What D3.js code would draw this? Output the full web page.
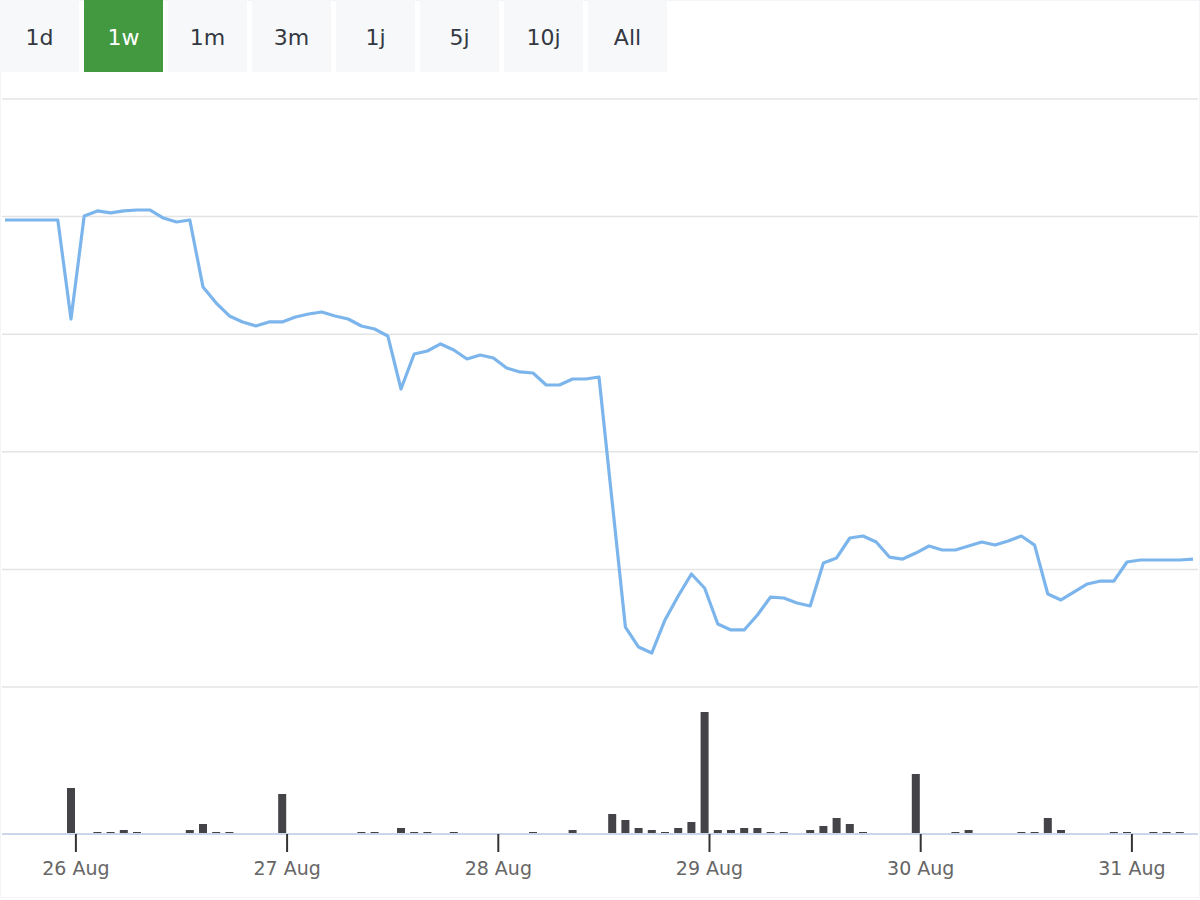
<!DOCTYPE html>
<html><head><meta charset="utf-8">
<script src="https://cdn.jsdelivr.net/npm/d3@7"></script>
<style>body{margin:0;background:#fff;font-family:"DejaVu Sans",sans-serif}</style>
</head><body><svg id="c" width="1200" height="900"></svg>
<script>
const buttons = ["1d","1w","1m","3m","1j","5j","10j","All"];
const selectedButton = "1w";
const startTime = new Date(2025,7,25,16,0);
const stepHours = 1.5;
const priceY = [220,220,220,220,220,319,216,211,213,211,210,210,218,222,220,287,303,316,322,326,322,322,317,314,312,316,319,326,329,336,389,354,351,344,350,359,355,358,368,372,373,385,385,379,379,377,502,627,647,653,620,596,574,588,624,630,630,615,597,598,603,606,563,558,538,536,542,557,559,553,546,550,550,546,542,545,541,536,545,594,600,592,584,581,581,562,560,560,560,560,559];
const prices = priceY.map(y => +(0.9 + (687 - y) / 1176).toFixed(4));
const volIdx = [5,7,8,9,10,14,15,16,17,21,27,28,30,31,32,34,40,43,46,47,48,49,50,51,52,53,54,55,56,57,58,59,61,62,63,64,65,69,72,73,77,78,79,80,84,85,87,88,89];
const volVal = [46,2,2,4,2,4,10,2,2,40,2,2,6,2,2,2,2,4,20,14,6,4,2,6,12,122,4,4,6,6,2,2,4,8,16,10,2,60,2,4,2,2,16,4,2,2,2,2,2];
const tickDates = [26,27,28,29,30,31].map(d => new Date(2025,7,d));
const tickLabels = ["26 Aug","27 Aug","28 Aug","29 Aug","30 Aug","31 Aug"];
const priceTicks = [0.9,1.0,1.1,1.2,1.3,1.4];

const svg = d3.select("#c");
const times = prices.map((_, i) => new Date(+startTime + i * stepHours * 3600e3));
const x = d3.scaleTime().domain([times[0], times[times.length-1]]).range([5, 1193]);
const y = d3.scaleLinear().domain([0.9, 1.4]).range([687, 99]);
const yv = d3.scaleLinear().domain([0, 122]).range([834, 712]);

svg.append("rect").attr("x",0.5).attr("y",0.5).attr("width",1199).attr("height",897).attr("fill","none").attr("stroke","#f2f4f7");
const bg = svg.append("g").selectAll("g").data(buttons).join("g").attr("transform",(d,i)=>`translate(${i*84},0)`);
bg.append("rect").attr("width",79).attr("height",72).attr("fill",d=>d===selectedButton?"#43993f":"#f7f8fa");
bg.append("text").attr("x",39.5).attr("y",45).attr("text-anchor","middle").attr("font-size",22)
  .attr("fill",d=>d===selectedButton?"#fff":"#333842").text(d=>d);
svg.append("g").selectAll("line").data(priceTicks).join("line").attr("x1",2).attr("x2",1198)
  .attr("y1",d=>y(d)).attr("y2",d=>y(d)).attr("stroke","#e4e4e4").attr("stroke-width",1.5);
svg.append("g").selectAll("rect").data(volIdx).join("rect")
  .attr("x",(d)=>x(times[d])-4).attr("width",8)
  .attr("y",(d,i)=>yv(volVal[i])).attr("height",(d,i)=>834-yv(volVal[i])).attr("fill","#434348");
svg.append("path").datum(prices).attr("fill","none").attr("stroke","#7cb5ec").attr("stroke-width",3.2)
  .attr("stroke-linejoin","round")
  .attr("d",d3.line().x((d,i)=>x(times[i])).y(d=>y(d)));
const ax = svg.append("g").attr("transform","translate(0,834)")
  .call(d3.axisBottom(x).tickValues(tickDates).tickFormat((d,i)=>tickLabels[i]).tickSize(18).tickSizeOuter(0));
ax.select(".domain").attr("stroke","#ccd6eb").attr("stroke-width",2).attr("d","M2,0H1198");
ax.selectAll(".tick line").attr("stroke","#333").attr("stroke-width",2);
ax.selectAll(".tick text").attr("font-size",19).attr("fill","#666").attr("dy","1.05em").attr("font-family","'DejaVu Sans',sans-serif");
</script></body></html>
